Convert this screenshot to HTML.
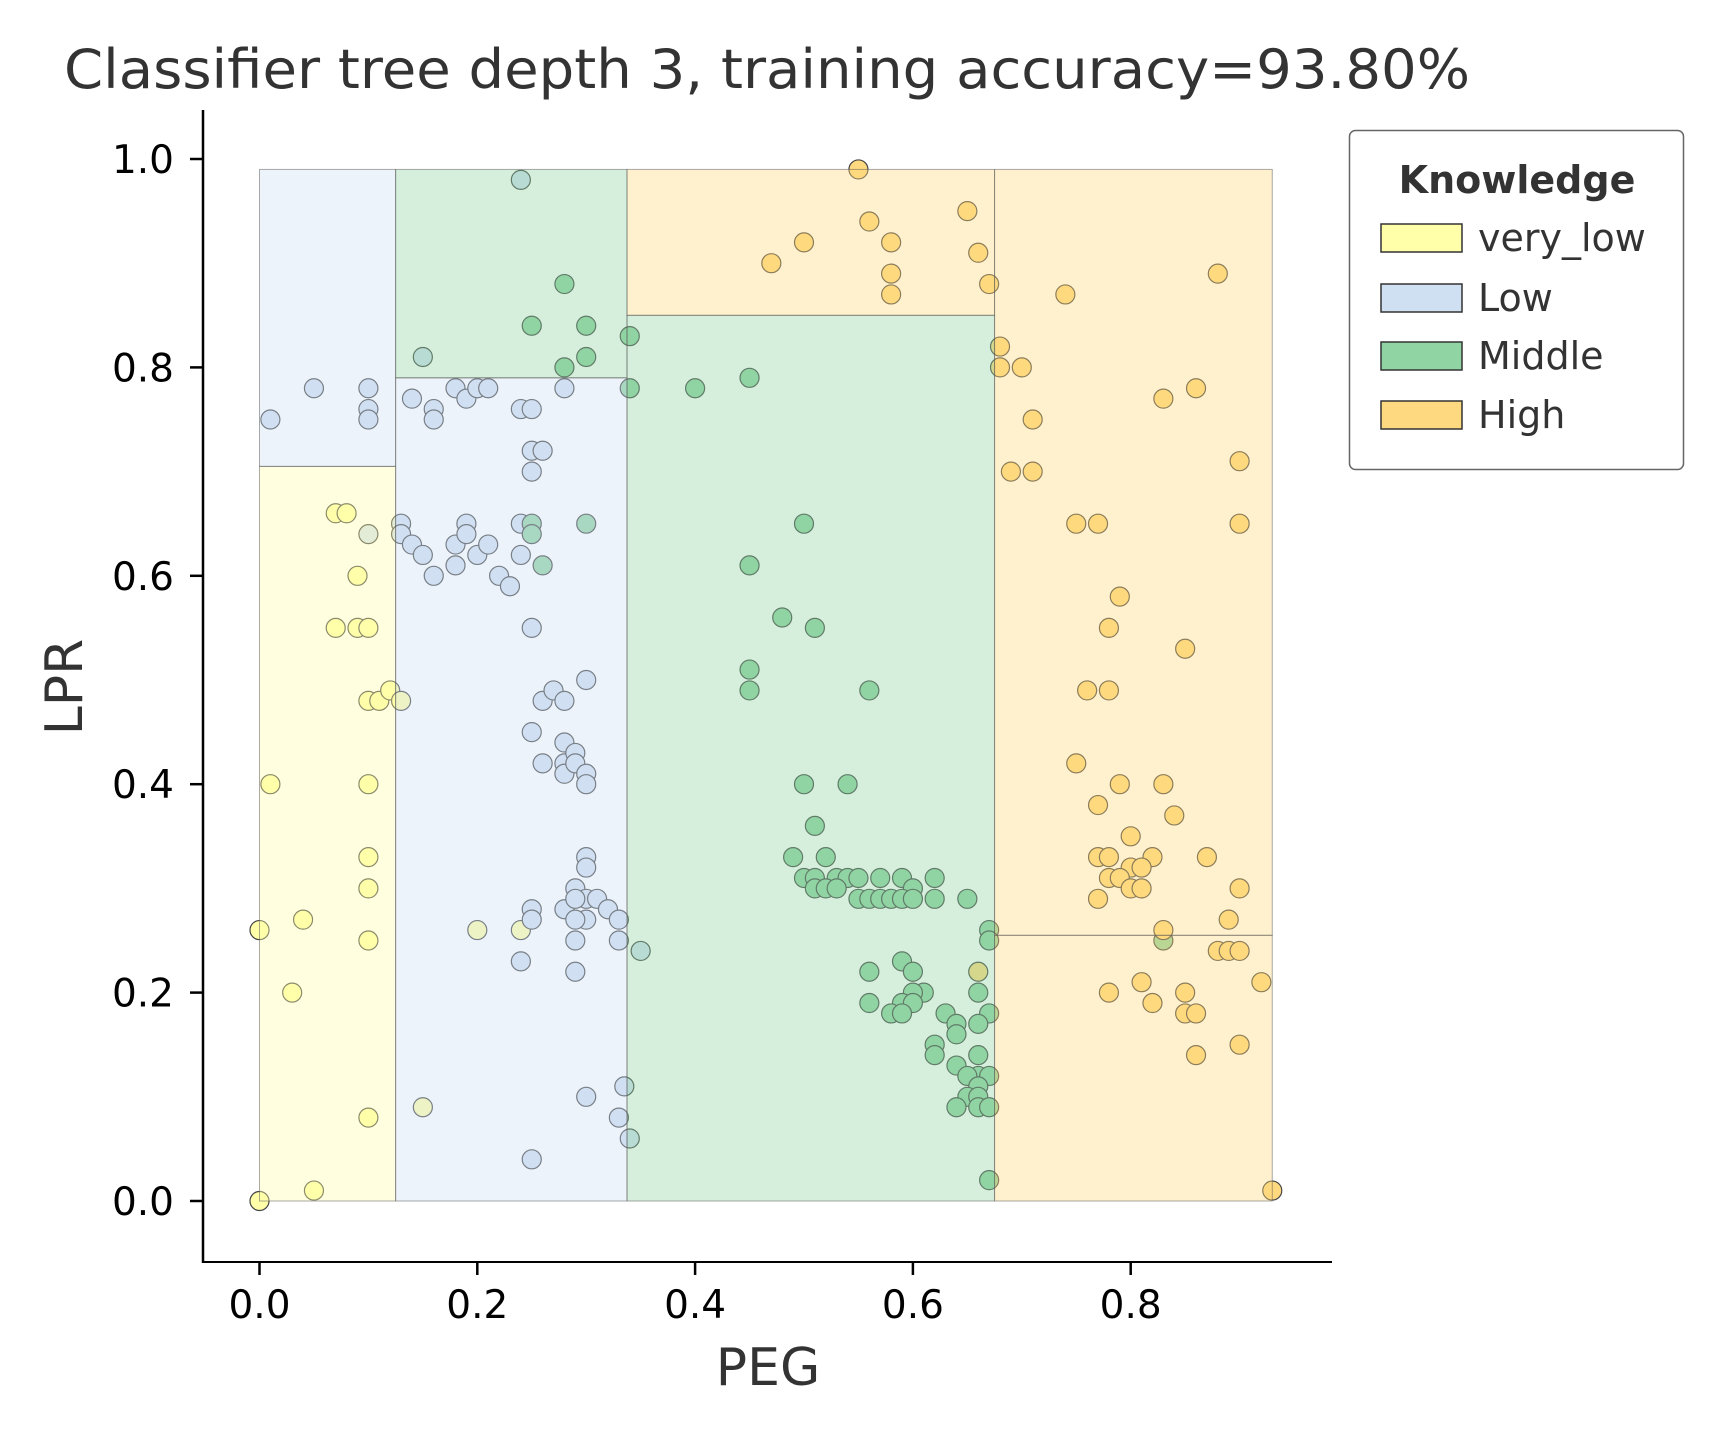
<!DOCTYPE html>
<html><head><meta charset="utf-8">
<style>html,body{margin:0;padding:0;background:#fff}svg{display:block}</style>
</head><body>
<svg id="s" xmlns="http://www.w3.org/2000/svg" width="1728" height="1440" viewBox="0 0 1728 1440" font-family="DejaVu Sans, Liberation Sans, sans-serif">
<rect width="1728" height="1440" fill="#fff"/>
<g id="pts"></g>
<g id="reg" stroke="#555" stroke-opacity="0.5" stroke-width="1"></g>
<line x1="203" y1="110" x2="203" y2="1263" stroke="#000" stroke-width="2.5"/>
<line x1="202" y1="1262" x2="1332" y2="1262" stroke="#000" stroke-width="2"/>
<g id="ticks" stroke="#000" stroke-width="2.5"></g>
<g id="tl" font-size="39" fill="#000"></g>
<text x="64" y="88" font-size="54" fill="#333" textLength="1406" lengthAdjust="spacingAndGlyphs">Classifier tree depth 3, training accuracy=93.80%</text>
<text x="768" y="1385" font-size="52" fill="#333" text-anchor="middle">PEG</text>
<text transform="translate(82,687) rotate(-90)" font-size="52" fill="#333" text-anchor="middle">LPR</text>
<rect x="1349.5" y="130.5" width="334" height="339" rx="6" fill="#fff" stroke="#666" stroke-width="1.5"/>
<text x="1517" y="193" font-size="38" font-weight="bold" fill="#333" text-anchor="middle">Knowledge</text>
<g stroke="#333" stroke-width="1.5">
<rect x="1381" y="224" width="81" height="28" fill="#ffffaa"/>
<rect x="1381" y="284" width="81" height="28" fill="#d0e0f3"/>
<rect x="1381" y="342" width="81" height="28" fill="#90d4a4"/>
<rect x="1381" y="401" width="81" height="28" fill="#ffd97f"/>
</g>
<g font-size="38" fill="#333">
<text x="1478" y="251">very_low</text>
<text x="1478" y="311">Low</text>
<text x="1478" y="369">Middle</text>
<text x="1478" y="428">High</text>
</g>
</svg>
<script>
var NS="http://www.w3.org/2000/svg";
function X(v){return 259.5+1089*v;}
function Y(v){return 1201-1042*v;}
function el(p,t,a){var e=document.createElementNS(NS,t);for(var k in a)e.setAttribute(k,a[k]);p.appendChild(e);return e;}
var C={v:"#ffffaa",l:"#d0e0f3",m:"#90d4a4",h:"#ffd97f"};
var P={
v:[[0,0.26],[0,0],[0.01,0.4],[0.04,0.27],[0.03,0.2],[0.05,0.01],[0.07,0.66],[0.08,0.66],[0.09,0.6],[0.07,0.55],[0.09,0.55],[0.1,0.55],[0.1,0.48],[0.11,0.48],[0.12,0.49],[0.13,0.48],[0.1,0.4],[0.1,0.33],[0.1,0.3],[0.1,0.25],[0.1,0.08],[0.15,0.09],[0.2,0.26],[0.24,0.26]],
l:[[0.01,0.75],[0.05,0.78],[0.1,0.78],[0.1,0.76],[0.1,0.75],[0.1,0.64],[0.14,0.77],[0.16,0.76],[0.16,0.75],[0.18,0.78],[0.19,0.77],[0.2,0.78],[0.21,0.78],[0.24,0.76],[0.25,0.76],[0.25,0.72],[0.26,0.72],[0.25,0.7],[0.13,0.65],[0.13,0.64],[0.14,0.63],[0.15,0.62],[0.16,0.6],[0.18,0.63],[0.18,0.61],[0.19,0.65],[0.19,0.64],[0.2,0.62],[0.21,0.63],[0.22,0.6],[0.23,0.59],[0.24,0.65],[0.24,0.62],[0.25,0.55],[0.26,0.48],[0.27,0.49],[0.28,0.48],[0.3,0.5],[0.25,0.45],[0.28,0.44],[0.26,0.42],[0.28,0.42],[0.29,0.43],[0.28,0.41],[0.29,0.42],[0.3,0.41],[0.3,0.4],[0.3,0.33],[0.3,0.32],[0.29,0.3],[0.3,0.29],[0.31,0.29],[0.28,0.28],[0.29,0.29],[0.25,0.28],[0.25,0.27],[0.3,0.27],[0.29,0.27],[0.32,0.28],[0.33,0.27],[0.29,0.25],[0.33,0.25],[0.24,0.23],[0.29,0.22],[0.3,0.1],[0.335,0.11],[0.33,0.08],[0.25,0.04],[0.24,0.98],[0.15,0.81],[0.28,0.78],[0.35,0.24],[0.34,0.06]],
m:[[0.28,0.88],[0.25,0.84],[0.3,0.84],[0.34,0.83],[0.28,0.8],[0.3,0.81],[0.34,0.78],[0.4,0.78],[0.45,0.79],[0.25,0.65],[0.25,0.64],[0.3,0.65],[0.26,0.61],[0.45,0.61],[0.5,0.65],[0.48,0.56],[0.51,0.55],[0.45,0.51],[0.45,0.49],[0.56,0.49],[0.5,0.4],[0.54,0.4],[0.51,0.36],[0.49,0.33],[0.52,0.33],[0.5,0.31],[0.51,0.31],[0.53,0.31],[0.54,0.31],[0.55,0.31],[0.57,0.31],[0.59,0.31],[0.62,0.31],[0.51,0.3],[0.52,0.3],[0.53,0.3],[0.6,0.3],[0.55,0.29],[0.56,0.29],[0.57,0.29],[0.58,0.29],[0.59,0.29],[0.6,0.29],[0.62,0.29],[0.65,0.29],[0.67,0.26],[0.67,0.25],[0.83,0.25],[0.59,0.23],[0.56,0.22],[0.6,0.22],[0.61,0.2],[0.6,0.2],[0.66,0.2],[0.56,0.19],[0.59,0.19],[0.6,0.19],[0.58,0.18],[0.59,0.18],[0.63,0.18],[0.67,0.18],[0.64,0.17],[0.66,0.17],[0.64,0.16],[0.62,0.15],[0.62,0.14],[0.66,0.14],[0.64,0.13],[0.66,0.12],[0.67,0.12],[0.65,0.12],[0.66,0.11],[0.65,0.1],[0.66,0.1],[0.64,0.09],[0.66,0.09],[0.67,0.09],[0.67,0.02]],
h:[[0.55,0.99],[0.56,0.94],[0.65,0.95],[0.47,0.9],[0.5,0.92],[0.58,0.92],[0.66,0.91],[0.58,0.89],[0.67,0.88],[0.58,0.87],[0.68,0.82],[0.68,0.8],[0.7,0.8],[0.74,0.87],[0.88,0.89],[0.83,0.77],[0.86,0.78],[0.71,0.75],[0.69,0.7],[0.71,0.7],[0.9,0.71],[0.75,0.65],[0.77,0.65],[0.9,0.65],[0.79,0.58],[0.78,0.55],[0.85,0.53],[0.76,0.49],[0.78,0.49],[0.75,0.42],[0.79,0.4],[0.83,0.4],[0.77,0.38],[0.84,0.37],[0.8,0.35],[0.77,0.33],[0.78,0.33],[0.82,0.33],[0.87,0.33],[0.8,0.32],[0.81,0.32],[0.78,0.31],[0.79,0.31],[0.8,0.3],[0.81,0.3],[0.9,0.3],[0.77,0.29],[0.89,0.27],[0.83,0.26],[0.88,0.24],[0.89,0.24],[0.9,0.24],[0.92,0.21],[0.81,0.21],[0.78,0.2],[0.85,0.2],[0.82,0.19],[0.85,0.18],[0.86,0.18],[0.9,0.15],[0.86,0.14],[0.93,0.01],[0.66,0.22]]};
var pts=document.getElementById("pts");
for(var k in P){P[k].forEach(function(p){el(pts,"circle",{cx:X(p[0]),cy:Y(p[1]),r:9.5,fill:C[k],stroke:"#444","stroke-width":1.2});});}
var reg=document.getElementById("reg");
var R=[[0,0.125,0,0.705,"v"],[0,0.125,0.705,0.99,"l"],[0.125,0.3375,0,0.79,"l"],[0.125,0.3375,0.79,0.99,"m"],[0.3375,0.675,0,0.85,"m"],[0.3375,0.675,0.85,0.99,"h"],[0.675,0.93,0,0.255,"h"],[0.675,0.93,0.255,0.99,"h"]];
R.forEach(function(r){el(reg,"rect",{x:X(r[0]),y:Y(r[3]),width:X(r[1])-X(r[0]),height:Y(r[2])-Y(r[3]),fill:C[r[4]],"fill-opacity":0.38});});
var tk=document.getElementById("ticks"),tl=document.getElementById("tl");
for(var i=0;i<=5;i++){var v=i*0.2,y=Y(v);el(tk,"line",{x1:190,y1:y,x2:203,y2:y});var t=el(tl,"text",{x:174,y:y+14,"text-anchor":"end"});t.textContent=v.toFixed(1);}
for(var i=0;i<=4;i++){var v=i*0.2,x=X(v);el(tk,"line",{x1:x,y1:1262,x2:x,y2:1275});var t=el(tl,"text",{x:x,y:1318,"text-anchor":"middle"});t.textContent=v.toFixed(1);}
</script>
</body></html>
